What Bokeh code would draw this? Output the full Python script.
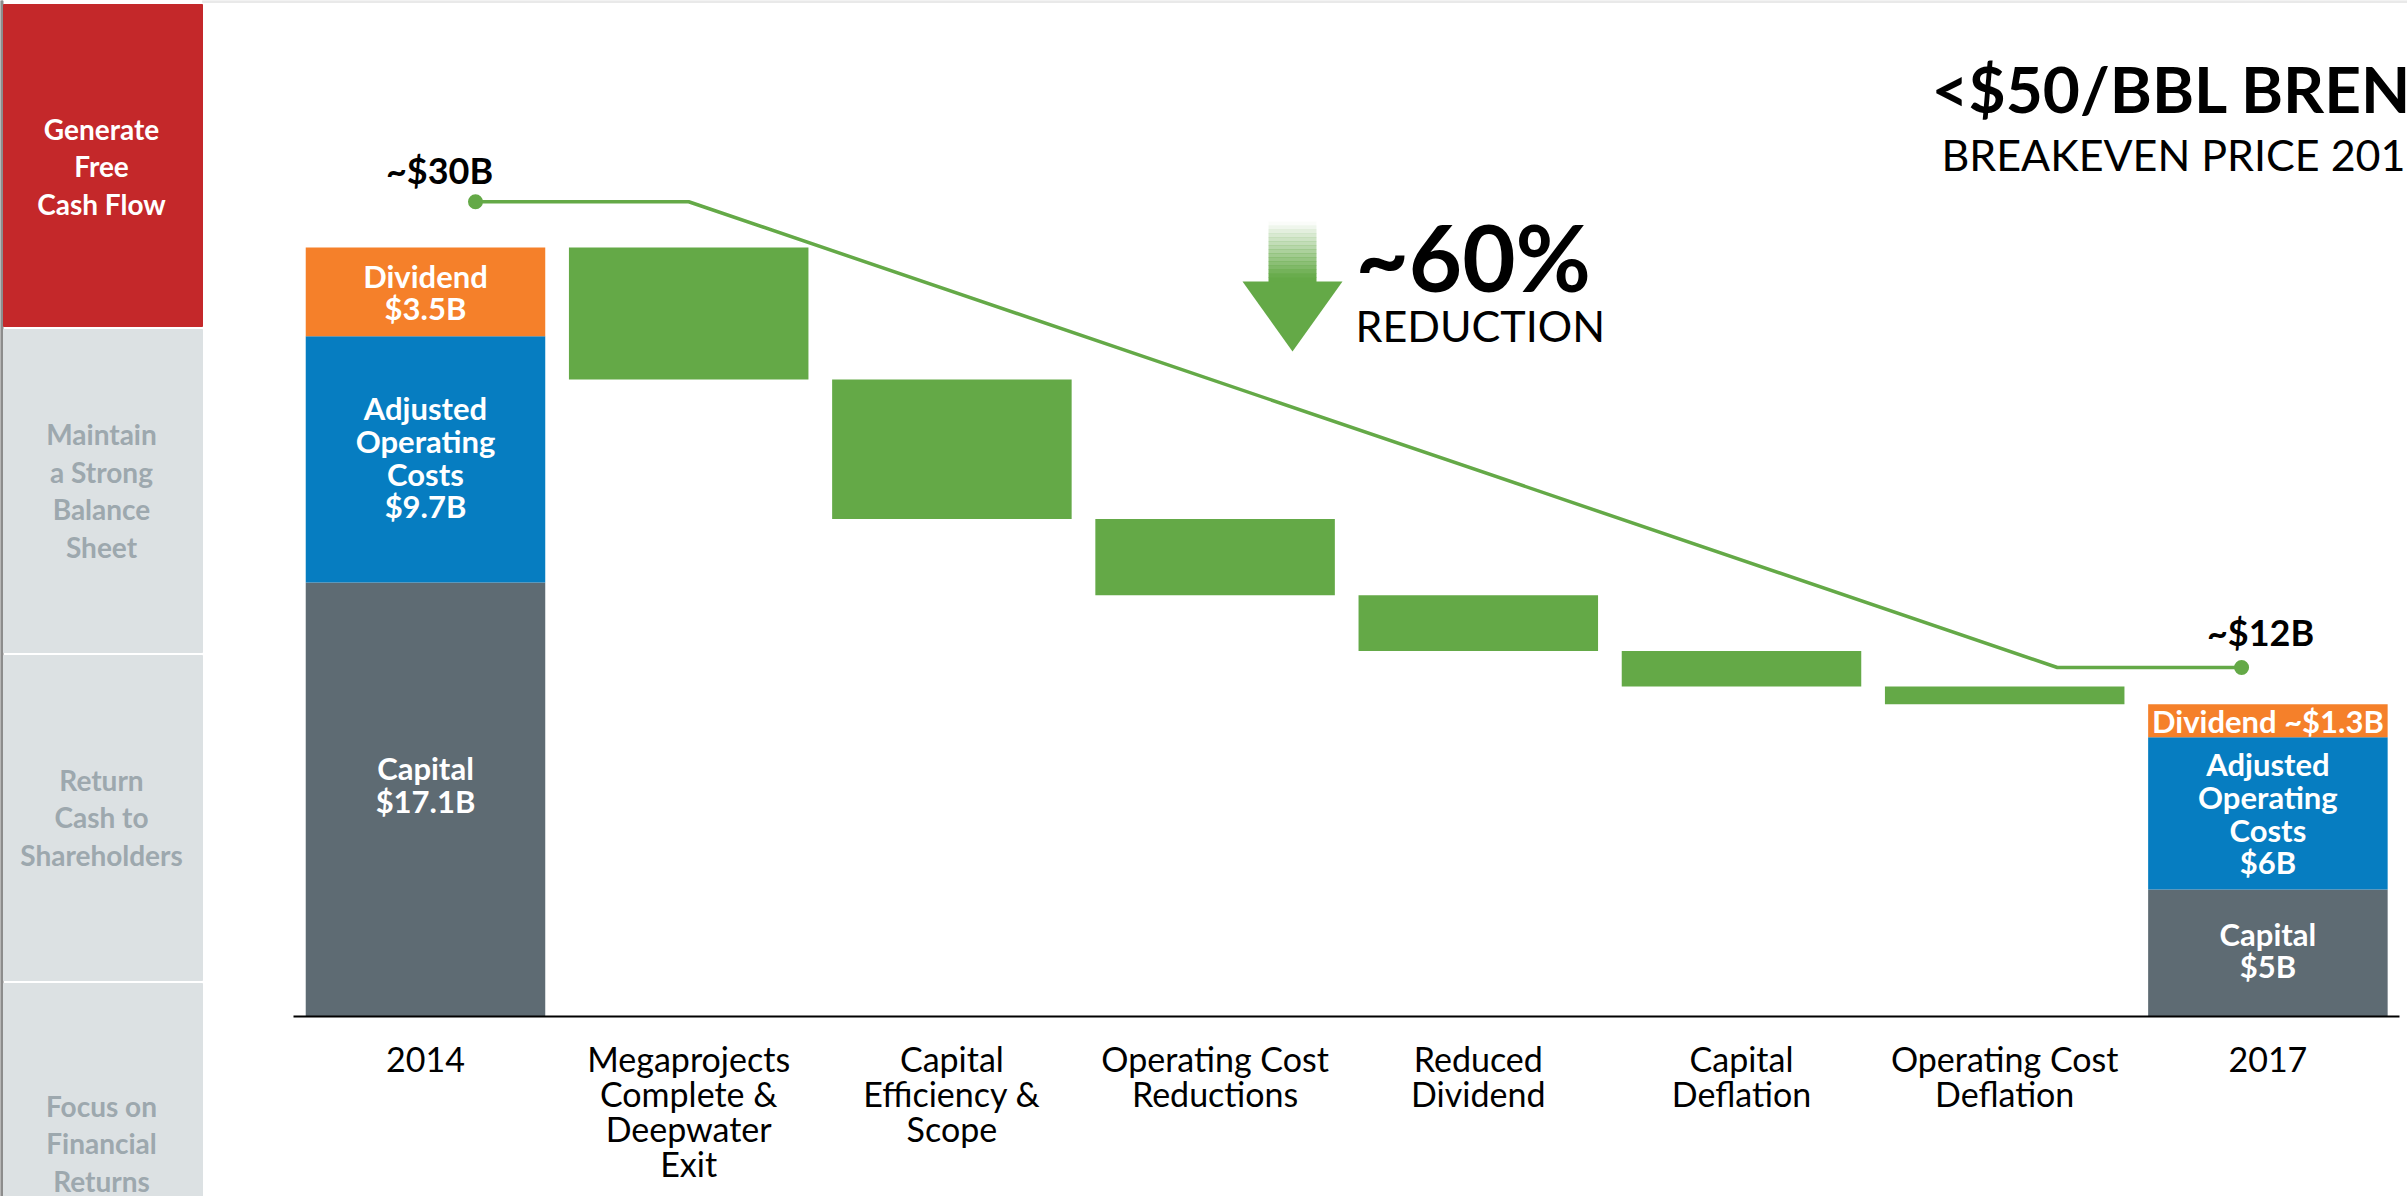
from bokeh.plotting import figure
from bokeh.models import Range1d, LinearAxis, FixedTicker
from bokeh.core.properties import value
from bokeh.embed import file_html
from bokeh.resources import INLINE

W, H = 2407, 1196

# ---------------- data ----------------
categories = [
    "2014",
    "Megaprojects\nComplete &\nDeepwater\nExit",
    "Capital\nEfficiency &\nScope",
    "Operating Cost\nReductions",
    "Reduced\nDividend",
    "Capital\nDeflation",
    "Operating Cost\nDeflation",
    "2017",
]
values_2014 = [17.1, 9.7, 3.5]          # Capital, Adjusted Operating Costs, Dividend
values_2017 = [5.0, 6.0, 1.3]
labels_2014 = ["Capital\n$17.1B", "Adjusted\nOperating\nCosts\n$9.7B", "Dividend\n$3.5B"]
labels_2017 = ["Capital\n$5B", "Adjusted\nOperating\nCosts\n$6B", "Dividend ~$1.3B"]
component_colors = ["#5e6b73", "#067dc1", "#f5802a"]
step_values = [5.2, 5.5, 3.0, 2.2, 1.4, 0.7]   # reductions per driver ($B)
trend_x = [0.19, 1.0, 6.2, 6.9]
trend_y = [32.1, 32.1, 13.75, 13.75]
trend_labels = ["~$30B", "~$12B"]
sidebar_items = [
    "Generate\nFree\nCash Flow",
    "Maintain\na Strong\nBalance\nSheet",
    "Return\nCash to\nShareholders",
    "Focus on\nFinancial\nReturns",
]

GREEN = "#64a947"
FONT = value("Lato")

p = figure(width=W, height=H,
           x_range=Range1d(-1.6147, 7.5304), y_range=Range1d(-7.092, 40.03),
           output_backend="svg", toolbar_location=None,
           x_axis_location=None, y_axis_location=None,
           min_border=0, min_border_left=0, min_border_right=0,
           min_border_top=0, min_border_bottom=0,
           outline_line_color=None, background_fill_color="white",
           border_fill_color="white")
p.xgrid.visible = False
p.ygrid.visible = False
p.extra_x_ranges = {"px": Range1d(0, W)}
p.extra_y_ranges = {"px": Range1d(H, 0)}
PX = dict(x_range_name="px", y_range_name="px")

# ---------------- sidebar ----------------
p.quad(left=[202], right=[W], top=[0], bottom=[2], color="#e9e9e9", **PX)
p.quad(left=[0], right=[2.5], top=[0], bottom=[H], color="#8c8c8c", **PX)
p.quad(left=[3] * 4, right=[202] * 4, top=[4, 329, 655, 983], bottom=[326, 652, 980, H],
       color=["#c4282a", "#dce1e3", "#dce1e3", "#dce1e3"], **PX)
p.text(x=[101] * 4, y=[166, 490, 817, 1143], text=sidebar_items,
       text_color=["white", "#9da8ae", "#9da8ae", "#9da8ae"],
       text_font=FONT, text_font_style="bold", text_font_size="28px",
       text_align="center", text_baseline="middle", text_line_height=1.10, **PX)

# ---------------- stacked start / end bars ----------------
def stack(vals):
    bottoms, tops = [], []
    acc = 0.0
    for v in vals:
        bottoms.append(acc)
        acc += v
        tops.append(acc)
    return bottoms, tops

b14, t14 = stack(values_2014)
b17, t17 = stack(values_2017)
BW = 0.91
p.vbar(x=[0] * 3, bottom=b14, top=t14, width=BW, color=component_colors, line_color=None)
p.vbar(x=[7] * 3, bottom=b17, top=t17, width=BW, color=component_colors, line_color=None)

# ---------------- waterfall steps ----------------
level = sum(values_2014)
sx, stop, sbot = [], [], []
for i, s in enumerate(step_values):
    sx.append(i + 1)
    stop.append(level)
    level -= s
    sbot.append(level)
p.vbar(x=sx, bottom=sbot, top=stop, width=BW, color=GREEN, line_color=None)

# ---------------- labels inside bars ----------------
mid14 = [(b + t) / 2 for b, t in zip(b14, t14)]
mid17 = [(b + t) / 2 for b, t in zip(b17, t17)]
lab_x = [0] * 3 + [7] * 3
lab_y = mid14 + mid17
lab_t = labels_2014 + labels_2017
lab_dy = [-15, -2, 0, -3, 0, 0]
p.text(x=lab_x, y=lab_y, text=lab_t, y_offset=lab_dy,
       text_color="white", text_font=FONT, text_font_style="bold",
       text_font_size="31px", text_align="center", text_baseline="middle",
       text_line_height=0.86)

# ---------------- trend line ----------------
p.line(trend_x, trend_y, line_color=GREEN, line_width=3.5)
p.scatter([trend_x[0], trend_x[-1]], [trend_y[0], trend_y[-1]], size=15,
          color=GREEN, line_color=None)
p.text(x=[trend_x[0]], y=[trend_y[0]], text=[trend_labels[0]], x_offset=-36, y_offset=-32,
       text_font=FONT, text_font_style="bold", text_font_size="36px",
       text_align="center", text_baseline="middle", text_color="black")
p.text(x=[trend_x[-1]], y=[trend_y[-1]], text=[trend_labels[1]], x_offset=19, y_offset=-36,
       text_font=FONT, text_font_style="bold", text_font_size="36px",
       text_align="center", text_baseline="middle", text_color="black")

# ---------------- reduction arrow ----------------
n = 14
y0, y1 = 221, 277
step = (y1 - y0) / n
p.quad(left=[1268] * n, right=[1316] * n,
       top=[y0 + i * step for i in range(n)],
       bottom=[y0 + (i + 1) * step + 0.5 for i in range(n)],
       color=GREEN, alpha=[(i + 0.5) / n for i in range(n)], line_color=None, **PX)
p.quad(left=[1268], right=[1316], top=[y1], bottom=[282], color=GREEN, line_color=None, **PX)
p.patch([1242, 1342, 1292], [281, 281, 351], color=GREEN, line_color=None, **PX)
p.text(x=[1355], y=[256], text=["~60%"], text_font=FONT, text_font_style="bold",
       text_font_size="92px", text_baseline="middle", text_color="black", **PX)
p.text(x=[1355], y=[325], text=["REDUCTION"], text_font=FONT,
       text_font_size="43px", text_baseline="middle", text_color="black", **PX)

# ---------------- headline ----------------
p.text(x=[1931], y=[88], text=["<$50/BBL BRENT"], text_font=FONT, text_font_style="bold",
       text_font_size="64px", text_baseline="middle", text_color="black", **PX)
p.text(x=[1941], y=[154], text=["BREAKEVEN PRICE 2017"], text_font=FONT,
       text_font_size="43px", text_baseline="middle", text_color="black", **PX)

# ---------------- category axis ----------------
ax = LinearAxis(ticker=FixedTicker(ticks=list(range(len(categories)))),
                major_label_overrides={i: c for i, c in enumerate(categories)},
                fixed_location=0, bounds=(-0.5, 7.5))
ax.axis_line_color = "black"
ax.axis_line_width = 2
ax.major_tick_line_color = None
ax.minor_tick_line_color = None
ax.major_label_standoff = 16
ax.major_label_text_font = "Lato"
ax.major_label_text_font_size = "34px"
ax.major_label_text_color = "black"
ax.major_label_text_line_height = 0.85
p.add_layout(ax, "below")

open("out.html", "w").write(file_html(p, INLINE))
